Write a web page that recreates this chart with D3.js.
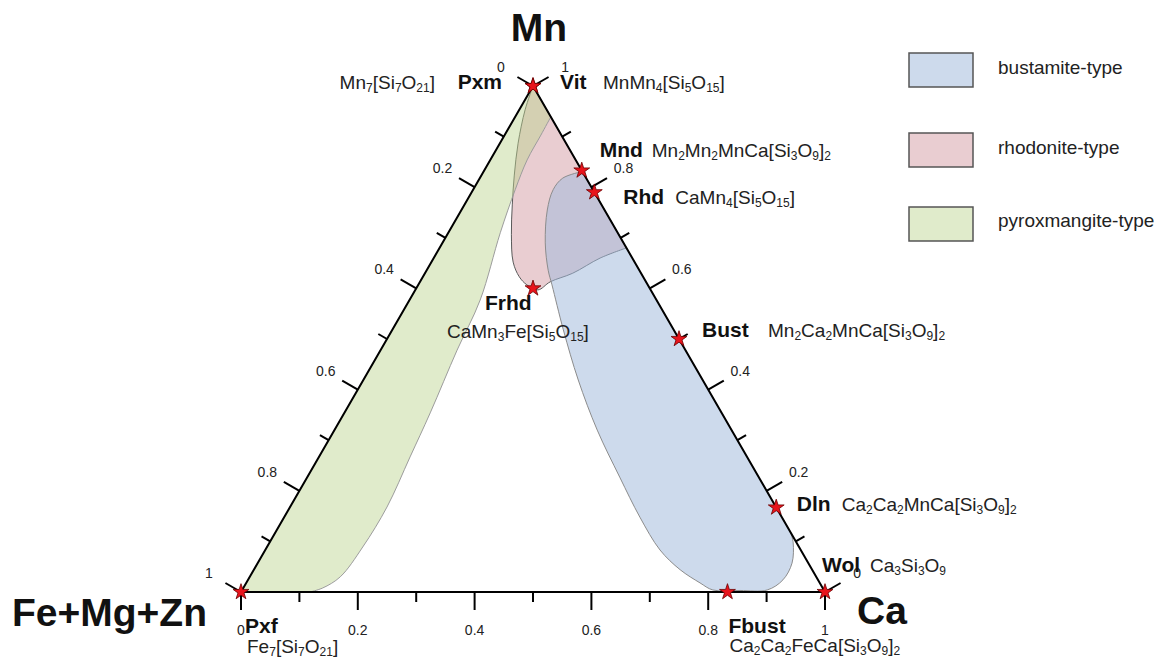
<!DOCTYPE html>
<html>
<head>
<meta charset="utf-8">
<script src="https://cdn.jsdelivr.net/npm/d3@7"></script>
<style>
body{margin:0;background:#fff;}
svg{display:block;font-family:"Liberation Sans",Arial,Helvetica,sans-serif;}
</style>
</head>
<body>
<svg id="chart" width="1166" height="658"></svg>
<script>
// points are [Ca, Mn]; Fe+Mg+Zn = 1 - Ca - Mn
var vertexNames = ['Fe+Mg+Zn', 'Ca', 'Mn']

var tickValues = [0, 0.1, 0.2, 0.3, 0.4, 0.5, 0.6, 0.7, 0.8, 0.9, 1]
var tickLabels = ['0', '', '0.2', '', '0.4', '', '0.6', '', '0.8', '', '1']

var mineralNames = ['Pxm', 'Vit', 'Mnd', 'Rhd', 'Frhd', 'Bust', 'Dln', 'Wol', 'Fbust', 'Pxf']
var mineralFormulas = ['Mn_7[Si_7O_21]', 'MnMn_4[Si_5O_15]', 'Mn_2Mn_2MnCa[Si_3O_9]_2', 'CaMn_4[Si_5O_15]',
	'CaMn_3Fe[Si_5O_15]', 'Mn_2Ca_2MnCa[Si_3O_9]_2', 'Ca_2Ca_2MnCa[Si_3O_9]_2', 'Ca_3Si_3O_9',
	'Ca_2Ca_2FeCa[Si_3O_9]_2', 'Fe_7[Si_7O_21]']
var mineralCa = [0, 0, 0.167, 0.21, 0.2, 0.5, 0.833, 1, 0.833, 0]
var mineralMn = [1, 1, 0.833, 0.79, 0.6, 0.5, 0.167, 0, 0, 0]

// field boundaries: curved part, then straight corners along the triangle
var rhodoniteCurve = [[0, 1], [0.01, 0.953], [0.031, 0.887], [0.056, 0.824], [0.082, 0.765], [0.11, 0.706],
	[0.14, 0.652], [0.165, 0.623], [0.186, 0.607], [0.21, 0.597], [0.223, 0.613], [0.253, 0.63],
	[0.285, 0.66], [0.32, 0.68]]
var rhodoniteCorners = []
var pyroxmangiteCurve = [[0.118, 0], [0.136, 0.008], [0.155, 0.03], [0.164, 0.089], [0.166, 0.168],
	[0.156, 0.267], [0.147, 0.354], [0.131, 0.478], [0.121, 0.577], [0.089, 0.71], [0.072, 0.795],
	[0.063, 0.854], [0.062, 0.903], [0.061, 0.939]]
var pyroxmangiteCorners = [[0, 1], [0, 0]]
var bustamiteCurve = [[0.169, 0.831], [0.142, 0.818], [0.137, 0.795], [0.147, 0.755], [0.176, 0.69],
	[0.208, 0.636], [0.229, 0.607], [0.293, 0.518], [0.368, 0.419], [0.45, 0.32], [0.535, 0.227],
	[0.609, 0.148], [0.676, 0.083], [0.73, 0.044], [0.777, 0.018], [0.806, 0.004], [0.853, 0.003],
	[0.899, 0.004], [0.916, 0.024], [0.915, 0.057], [0.897, 0.097], [0.883, 0.117]]
var bustamiteCorners = []

var legendNames = ['bustamite-type', 'rhodonite-type', 'pyroxmangite-type']

function ternary(){
	var svg = d3.select('svg#chart')

	var xs = d3.scaleLinear().domain([0, 1]).range([241, 825])
	var ys = d3.scaleLinear().domain([0, 1]).range([592, 86])
	function px(p){ return xs(p[0] + p[1] / 2) }
	function py(p){ return ys(p[1]) }

	var fields = [
		{name: 'rhodonite-type', curve: rhodoniteCurve, corners: rhodoniteCorners},
		{name: 'pyroxmangite-type', curve: pyroxmangiteCurve, corners: pyroxmangiteCorners},
		{name: 'bustamite-type', curve: bustamiteCurve, corners: bustamiteCorners}
	]
	var fieldStyle = {
		'rhodonite-type': {fill: 'rgb(233,205,209)', op: 1, stroke: '#5a5a5a'},
		'pyroxmangite-type': {fill: 'rgb(188,212,142)', op: 0.46, stroke: '#9c9c9c'},
		'bustamite-type': {fill: 'rgb(162,186,220)', op: 0.54, stroke: '#8c8c8c'}
	}
	var smooth = d3.line().x(px).y(py).curve(d3.curveCatmullRom.alpha(0.5))
	function fieldPath(f){
		var d = smooth(f.curve)
		f.corners.forEach(function(p){ d += 'L' + px(p) + ',' + py(p) })
		return d + 'Z'
	}

	svg.append('g').selectAll('path.field')
		.data(fields)
		.enter()
		.append('path')
		.attr('class', 'field')
		.attr('d', fieldPath)
		.style('fill', function(f){ return fieldStyle[f.name].fill })
		.style('fill-opacity', function(f){ return fieldStyle[f.name].op })
		.style('stroke', function(f){ return fieldStyle[f.name].stroke })
		.style('stroke-width', 1)

	// triangle
	var corners = [[0, 0], [1, 0], [0, 1]]
	svg.append('path')
		.attr('d', d3.line().x(px).y(py)(corners) + 'Z')
		.style('fill', 'none')
		.style('stroke', '#000')
		.style('stroke-width', 2)

	// three axes: bottom = Ca, right = Mn, left = Fe+Mg+Zn (0 at the top)
	var s = Math.sqrt(3) / 2
	var axes = [
		{pos: function(v){ return [v, 0] }, n: [0, 1]},
		{pos: function(v){ return [1 - v, v] }, n: [s, -0.5]},
		{pos: function(v){ return [0, 1 - v] }, n: [-s, -0.5]}
	]
	var ticks = []
	axes.forEach(function(a){
		tickValues.forEach(function(v, i){
			var p = a.pos(v)
			ticks.push({x: px(p), y: py(p), n: a.n, major: i % 2 === 0, label: tickLabels[i]})
		})
	})
	var tg = svg.append('g')
	tg.selectAll('line.tick')
		.data(ticks)
		.enter()
		.append('line')
		.attr('class', 'tick')
		.attr('x1', function(t){ return t.x })
		.attr('y1', function(t){ return t.y })
		.attr('x2', function(t){ return t.x + t.n[0] * (t.major ? 18 : 10) })
		.attr('y2', function(t){ return t.y + t.n[1] * (t.major ? 18 : 10) })
		.style('stroke', '#000')
		.style('stroke-width', 2)
	tg.selectAll('text.ticklabel')
		.data(ticks.filter(function(t){ return t.label }))
		.enter()
		.append('text')
		.attr('class', 'ticklabel')
		.attr('x', function(t){ return t.x + t.n[0] * 37 })
		.attr('y', function(t){ return t.y + t.n[1] * 38 })
		.attr('text-anchor', 'middle')
		.attr('dominant-baseline', 'central')
		.style('font-size', '14px')
		.style('fill', '#222')
		.text(function(t){ return t.label })

	// vertex names
	var vertexLayout = [
		{x: 12, y: 626, anchor: 'start'},
		{x: 857, y: 624, anchor: 'start'},
		{x: 539, y: 41, anchor: 'middle'}
	]
	svg.selectAll('text.vertex')
		.data(vertexNames)
		.enter()
		.append('text')
		.attr('class', 'vertex')
		.attr('x', function(d, i){ return vertexLayout[i].x })
		.attr('y', function(d, i){ return vertexLayout[i].y })
		.attr('text-anchor', function(d, i){ return vertexLayout[i].anchor })
		.style('font-size', '39px')
		.style('font-weight', 'bold')
		.style('fill', '#111')
		.text(function(d){ return d })

	// mineral end members
	var minerals = mineralNames.map(function(n, i){
		var p = [mineralCa[i], mineralMn[i]]
		return {name: n, formula: mineralFormulas[i], x: px(p), y: py(p)}
	})
	// label offsets from the star: name dx, dy, formula dx, dy, anchor
	var labelLayout = {
		Pxm: [-31, 3, -98, 3, 'end'],
		Vit: [27, 3, 70, 3, 'start'],
		Mnd: [18, -13.5, 70, -13.5, 'start'],
		Rhd: [29, 12, 81, 12, 'start'],
		Frhd: [-48, 22, -86, 50, 'start'],
		Bust: [23, -2, 89, -2, 'start'],
		Dln: [20.5, 3.5, 65.5, 3.5, 'start'],
		Wol: [-3, -20, 45, -20, 'start'],
		Fbust: [1, 41, 2, 60, 'start'],
		Pxf: [4, 41, 6, 61, 'start']
	}

	var lg = svg.append('g')
	minerals.forEach(function(m){
		var L = labelLayout[m.name]
		lg.append('text')
			.attr('x', m.x + L[0])
			.attr('y', m.y + L[1])
			.attr('text-anchor', L[4])
			.style('font-size', '21px')
			.style('font-weight', 'bold')
			.style('fill', '#111')
			.text(m.name)
		var t = lg.append('text')
			.attr('x', m.x + L[2])
			.attr('y', m.y + L[3])
			.attr('text-anchor', L[4])
			.style('font-size', '19px')
			.style('fill', '#222')
		var lowered = false
		m.formula.split(/(_\d+)/).filter(function(s){ return s.length }).forEach(function(part){
			if (part[0] === '_'){
				t.append('tspan').attr('dy', 3).style('font-size', '12px').text(part.slice(1))
				lowered = true
			} else {
				t.append('tspan').attr('dy', lowered ? -3 : 0).text(part)
				lowered = false
			}
		})
	})

	var symbol = d3.symbol().type(d3.symbolStar).size(78)
	svg.append('g').selectAll('path.star')
		.data(minerals)
		.enter()
		.append('path')
		.attr('class', 'star')
		.attr('transform', function(m){ return 'translate(' + m.x + ',' + m.y + ')' })
		.attr('d', symbol)
		.style('fill', '#e8141c')
		.style('stroke', '#6b0000')
		.style('stroke-width', 0.8)

	// legend
	var legendY = [53, 133, 207]
	var leg = svg.append('g').selectAll('g.item')
		.data(legendNames)
		.enter()
		.append('g')
		.attr('class', 'item')
		.attr('transform', function(d, i){ return 'translate(909,' + legendY[i] + ')' })
	leg.append('rect')
		.attr('width', 64)
		.attr('height', 34)
		.style('fill', function(d){ return fieldStyle[d].fill })
		.style('fill-opacity', function(d){ return fieldStyle[d].op })
		.style('stroke', '#555')
		.style('stroke-width', 1.5)
	leg.append('text')
		.attr('x', 89)
		.attr('y', function(d, i){ return [21, 21, 20][i] })
		.style('font-size', '19px')
		.style('fill', '#222')
		.text(function(d){ return d })
}
ternary()
</script>
</body>
</html>
